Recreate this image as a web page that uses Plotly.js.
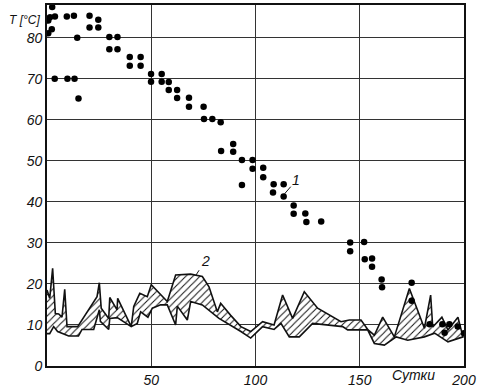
<!DOCTYPE html>
<html>
<head>
<meta charset="utf-8">
<script src="https://cdn.plot.ly/plotly-3.0.1.min.js"></script>
<style>html,body{margin:0;padding:0;background:#fff;}</style>
</head>
<body>
<div id="chart" style="width:479px;height:392px;"></div>
<script>
// Series 1: temperature points (days, °C)
const dotDays = [2.5,0.6,1.4,3.8,0.6,2.3,3.7,
  9.5,12.9,14.5,9.8,13.2,15.1,
  20.4,24.6,20.4,24.6,
  29.9,33.8,29.9,33.8,
  39.7,44.9,39.7,44.9,
  49.9,55,49.9,55,
  58.4,58.4,62.4,62.4,
  68.1,68.1,75.1,
  75.3,79.3,83.3,
  89.3,83.5,89.3,
  93.5,98.6,98.6,103.7,103.7,
  93.5,108.7,113.5,108.4,113.5,
  118.3,118.3,123.9,124.4,131.5,
  145.4,152.1,145.4,152.4,155.9,155.9,
  160.5,160.7,174.9,174.9,
  183.5,189.6,190.7,193,197,200];
const dotTemps = [87.5,84.2,85,85.2,81.1,82.1,70,
  85.2,85.4,80,70,70,65.2,
  85.4,84.4,82.5,82.5,
  80.2,80.2,77.2,77.2,
  75.3,75.3,73.2,73.2,
  71.2,71.2,69.3,69.3,
  69.2,67.3,67.3,65.3,
  65.4,63.2,63.2,
  60.2,60.2,59.4,
  54.1,52.4,52.2,
  50.2,50.2,48.1,48.3,46,
  44.1,44.3,44.3,42.3,41.3,
  39.1,37.1,37.2,35.1,35.2,
  30.1,30.2,28,26,26.2,24.2,
  21.1,19.2,20.3,15.9,
  10.2,10.2,8.1,10.2,9.6,8];

// Series 2: hatched band, upper and lower bounds
const upperDays = [0,1.3,2.7,4,5.6,7.2,8.5,9.6,14.7,16,24,25.1,26,29.6,30.1,33.6,33.9,40.4,41.6,44.5,48.1,50,57.7,61.7,68.9,74.5,77.7,81.7,83.3,88,93,97.7,103.4,108.9,113,117.8,123.4,129.8,141,145,150.6,154,157,161,166.6,173.8,181,184,185,189.4,192.3,197.1,199.5];
const upperTemps = [18.5,16.5,23.8,12.8,12.7,11.9,18.7,9.6,9.6,10.6,16.9,20.3,14.1,11.6,16.7,13.7,16.5,9.6,14.5,17.7,16.9,19.8,15.7,22.2,22.4,21.8,19.3,13.2,15.3,12.4,9.6,8.4,10.8,10.0,17.3,11.6,18.1,14.1,10.8,11.2,11.2,8.8,7.5,11.9,7.1,18.9,9.2,17.3,9.5,11.9,8.8,11.9,7.3];
const lowerDays = [0,1.3,3.2,5.1,7.5,10.4,15.1,16.8,22.4,25.1,25.6,29.6,30.1,33.7,40.4,43.3,44.9,48.4,50.5,54.5,57.7,61.7,62.5,67.3,68.9,74.5,82.5,88,93,97.7,103.4,108.9,112.2,116.2,121,127.4,141.8,144.2,150.6,153.8,157,161.8,167.5,173,181,185.9,192.3,199.5];
const lowerTemps = [7.9,7.9,9.6,8.4,7.8,7.3,7.3,8.9,8.9,13.7,10.9,8.9,11.6,11.8,9.6,10.4,13.2,11.9,14.1,14.9,14.9,10.0,14.6,11.2,15.7,14.9,11.6,10,8.4,6.8,9.6,8.9,10.4,7.1,7.1,10.4,9.6,8.8,8.8,8.8,5.5,5.1,7.1,6.3,7.1,8.0,5.9,7.1];

const xTicks = [50,100,150,200];
const yTicks = [0,10,20,30,40,50,60,70,80];

const bandX = upperDays.concat(lowerDays.slice().reverse());
const bandY = upperTemps.concat(lowerTemps.slice().reverse());

const fam = 'Liberation Sans, Arial, sans-serif';
const tickFont = {family: fam, size: 14, color: '#111', style: 'italic'};

const traces = [
  {
    x: bandX, y: bandY, type: 'scatter', mode: 'lines',
    fill: 'toself', fillcolor: 'rgba(255,255,255,0)',
    fillpattern: {shape: '/', fgcolor: '#111', bgcolor: '#ffffff', size: 5, solidity: 0.2},
    line: {color: '#111', width: 1.6},
    hoverinfo: 'skip', showlegend: false
  },
  {
    x: dotDays, y: dotTemps, type: 'scatter', mode: 'markers',
    marker: {color: '#000', size: 6.5},
    showlegend: false
  }
];

const layout = {
  width: 479, height: 392,
  margin: {l: 47, r: 15, t: 5, b: 26},
  paper_bgcolor: '#ffffff', plot_bgcolor: '#ffffff',
  showlegend: false,
  xaxis: {
    range: [0, 200], tickvals: xTicks, ticktext: xTicks.map(String),
    showgrid: true, gridcolor: '#333', gridwidth: 1,
    zeroline: false, showline: true, linecolor: '#111', linewidth: 1.8, mirror: true,
    ticks: '', tickfont: tickFont
  },
  yaxis: {
    range: [0, 88], tickvals: yTicks, ticktext: yTicks.map(String),
    showgrid: true, gridcolor: '#333', gridwidth: 1,
    zeroline: false, showline: true, linecolor: '#111', linewidth: 1.8, mirror: true,
    ticks: '', tickfont: tickFont
  },
  annotations: [
    {xref: 'paper', yref: 'paper', x: -0.012, y: 0.982, xanchor: 'right', text: 'T [°C]', showarrow: false,
     font: {family: fam, size: 12, color: '#111', style: 'italic'}},
    {xref: 'paper', yref: 'paper', x: 0.935, y: -0.052, text: 'Сутки', showarrow: false,
     font: {family: fam, size: 14, color: '#111', style: 'italic'}},
    {x: 113.3, y: 41.6, xref: 'x', yref: 'y', text: '1', showarrow: true, arrowhead: 0,
     arrowwidth: 1, arrowcolor: '#111', ax: 13, ay: -15, standoff: 2,
     font: {family: fam, size: 14, color: '#111', style: 'italic'}},
    {x: 71.5, y: 22.2, xref: 'x', yref: 'y', text: '2', showarrow: true, arrowhead: 0,
     arrowwidth: 1, arrowcolor: '#111', ax: 9, ay: -14, standoff: 0,
     font: {family: fam, size: 14, color: '#111', style: 'italic'}}
  ]
};

Plotly.newPlot('chart', traces, layout, {displayModeBar: false, staticPlot: true});
</script>
</body>
</html>
